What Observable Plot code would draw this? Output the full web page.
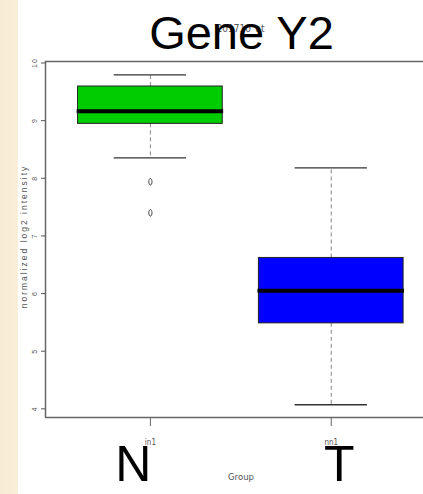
<!DOCTYPE html>
<html>
<head>
<meta charset="utf-8">
<script src="https://cdn.jsdelivr.net/npm/d3@7"></script>
<script src="https://cdn.jsdelivr.net/npm/@observablehq/plot@0.6"></script>
<style>
  html, body { margin: 0; padding: 0; width: 423px; height: 494px; overflow: hidden;
    background: linear-gradient(to right, #f8ebd2 0, #f9eed8 18px, #ffffff 18px); }
  #chart svg { display: block; background: transparent !important; }
</style>
</head>
<body>
<div id="chart"></div>
<script>
// ---- data ----
const groups = ["N", "T"];
const whiskerLow = [8.354, 4.071];
const q1 = [8.944, 5.483];
const median = [9.163, 6.05];
const q3 = [9.592, 6.618];
const whiskerHigh = [9.795, 8.18];
const outlierGroup = ["N", "N"];
const outlierValue = [7.94, 7.40];
const yTicks = [4, 5, 6, 7, 8, 9, 10];
const xTickLabels = ["in1", "nn1"];
const titleText = "Gene Y2";
const probeText = "201710_at";
const yLabel = "normalized log2 intensity";
const xLabel = "Group";
const boxColors = ["#00cd00", "#0000ff"];

// ---- build table ----
const boxes = groups.map((g, i) => ({
  group: g, pos: i + 1, lo: whiskerLow[i], q1: q1[i], med: median[i], q3: q3[i], hi: whiskerHigh[i],
  color: boxColors[i], tick: xTickLabels[i]
}));
const outliers = outlierGroup.map((g, i) => ({pos: groups.indexOf(g) + 1, value: outlierValue[i]}));

const xDomain = [0.42, 2.51];
const yDomain = [3.85, 10.026];

const ellipse = {
  draw(ctx) {
    const rx = 1.6, ry = 3.3, k = 0.5523;
    ctx.moveTo(0, -ry);
    ctx.bezierCurveTo(k * rx, -ry, rx, -k * ry, rx, 0);
    ctx.bezierCurveTo(rx, k * ry, k * rx, ry, 0, ry);
    ctx.bezierCurveTo(-k * rx, ry, -rx, k * ry, -rx, 0);
    ctx.bezierCurveTo(-rx, -k * ry, -k * rx, -ry, 0, -ry);
    ctx.closePath();
  }
};

const sans = "'Liberation Sans', Arial, sans-serif";
const narrow = "'Liberation Sans Narrow', 'DejaVu Sans Condensed', 'Liberation Sans', sans-serif";

const chart = Plot.plot({
  width: 423,
  height: 494,
  marginLeft: 45,
  marginRight: 0,
  marginTop: 61,
  marginBottom: 77,
  style: {background: "transparent", fontFamily: sans},
  x: {type: "linear", domain: xDomain, axis: null},
  y: {type: "linear", domain: yDomain, axis: null},
  marks: [
    // frame
    Plot.ruleY([yDomain[1]], {stroke: "#666", strokeWidth: 1.5}),
    Plot.ruleY([yDomain[0]], {stroke: "#666", strokeWidth: 1.5}),
    Plot.ruleX([xDomain[0]], {stroke: "#666", strokeWidth: 1.5}),
    // axes ticks
    Plot.axisY({ticks: yTicks, tickSize: 4, tickFormat: () => "", label: null, stroke: "#555"}),
    Plot.axisX({ticks: boxes.map(d => d.pos), tickSize: 9, tickFormat: () => "", label: null, stroke: "#666"}),
    Plot.text(yTicks, {y: d => d, text: d => String(d), frameAnchor: "left", textAnchor: "middle",
      dx: -10.5, rotate: -90, fontSize: 7, fill: "#555"}),
    Plot.text(boxes, {x: "pos", text: "tick", frameAnchor: "bottom", dy: 27, fontSize: 8, fill: "#555",
      fontFamily: narrow}),
    // whiskers
    Plot.ruleX(boxes, {x: "pos", y1: "q3", y2: "hi", stroke: "#888", strokeWidth: 1, strokeDasharray: "4,3"}),
    Plot.ruleX(boxes, {x: "pos", y1: "q1", y2: "lo", stroke: "#888", strokeWidth: 1, strokeDasharray: "4,3"}),
    Plot.ruleY(boxes, {y: "hi", x1: d => d.pos - 0.2, x2: d => d.pos + 0.2, stroke: "#333", strokeWidth: 1.3}),
    Plot.ruleY(boxes, {y: "lo", x1: d => d.pos - 0.2, x2: d => d.pos + 0.2, stroke: "#333", strokeWidth: 1.3}),
    // boxes
    Plot.rect(boxes, {x1: d => d.pos - 0.4, x2: d => d.pos + 0.4, y1: "q1", y2: "q3", fill: "color",
      stroke: "#222", strokeWidth: 1}),
    Plot.ruleY(boxes, {y: "med", x1: d => d.pos - 0.405, x2: d => d.pos + 0.405, stroke: "#000", strokeWidth: 4}),
    // outliers
    Plot.dot(outliers, {x: "pos", y: "value", symbol: ellipse, r: 3, stroke: "#333", strokeWidth: 0.9, fill: "none"}),
    // big group labels
    Plot.text(boxes.filter(d => d.group === "N"), {x: "pos", text: "group", frameAnchor: "bottom", lineAnchor: "bottom",
      dy: 63.5, dx: -17, fontSize: 50, fill: "#000"}),
    Plot.text(boxes.filter(d => d.group === "T"), {x: "pos", text: "group", frameAnchor: "bottom", lineAnchor: "bottom",
      dy: 63.5, dx: 8, fontSize: 50, fill: "#000"}),
    // axis titles
    Plot.text([xLabel], {text: d => d, frameAnchor: "bottom", textAnchor: "middle", dx: 6.5, dy: 62.5,
      fontSize: 9.5, fill: "#555", fontFamily: narrow}),
    Plot.text([yLabel], {text: d => d, frameAnchor: "left", textAnchor: "middle", dx: -21, dy: -3, rotate: -90,
      fontSize: 8.5, fill: "#555"}),
    // titles
    Plot.text([probeText], {text: d => d, frameAnchor: "top", textAnchor: "middle", lineAnchor: "bottom",
      dx: 6, dy: -30, fontSize: 10, fill: "#555", fontFamily: narrow}),
    Plot.text([titleText], {text: d => d, frameAnchor: "top", textAnchor: "middle", lineAnchor: "bottom",
      dx: 7, dy: -13, fontSize: 47, fill: "#000"})
  ]
});
// widen spacing of the small axis title, as in the reference
d3.select(chart).selectAll("text").filter(function () { return this.textContent === yLabel; })
  .style("letter-spacing", "2px");
d3.select(chart).selectAll("text").filter(function () { return yTicks.map(String).includes(this.textContent); })
  .style("letter-spacing", "1px");
document.getElementById("chart").appendChild(chart);
</script>
</body>
</html>
